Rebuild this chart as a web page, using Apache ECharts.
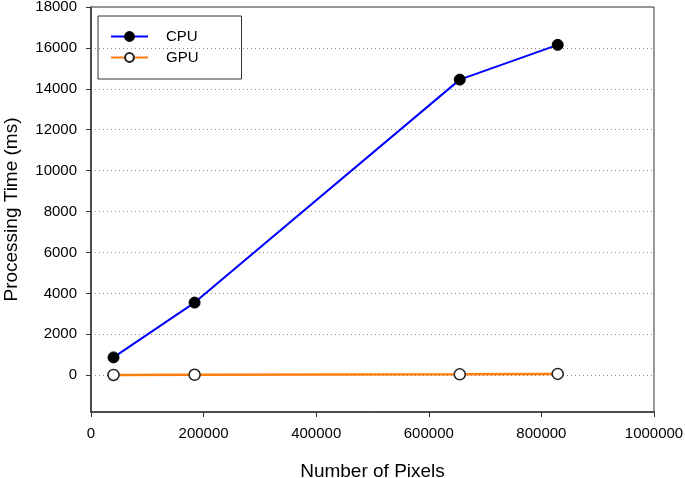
<!DOCTYPE html>
<html>
<head>
<meta charset="utf-8">
<script src="https://cdn.jsdelivr.net/npm/echarts@6/dist/echarts.min.js"></script>
<style>
html,body{margin:0;padding:0;background:#fff;}
#chart{width:685px;height:478px;}
</style>
</head>
<body>
<div id="chart"></div>
<script>
const pixels = [40000, 184000, 655000, 829000];
const cpuTime = [870, 3550, 14450, 16150];
const gpuTime = [10, 20, 40, 60];
const yTicks = [0, 2000, 4000, 6000, 8000, 10000, 12000, 14000, 16000, 18000];

const FONT = 'Liberation Sans, Arial, sans-serif';
const chart = echarts.init(document.getElementById('chart'), null, {renderer: 'canvas'});
chart.setOption({
  animation: false,
  backgroundColor: '#fff',
  textStyle: {fontFamily: FONT},
  grid: {left: 91, right: 31, top: 7, bottom: 66, outerBoundsMode: 'none', containLabel: false,
         show: true, borderColor: '#333', borderWidth: 1, backgroundColor: 'transparent'},
  legend: {
    orient: 'vertical', left: 98, top: 16,
    padding: [13, 43, 14, 12],
    itemWidth: 37, itemHeight: 11, itemGap: 6,
    borderColor: '#333', borderWidth: 1,
    textStyle: {fontFamily: FONT, fontSize: 15, color: '#000', padding: [0, 0, 0, 13]},
    data: ['CPU', 'GPU']
  },
  xAxis: {
    type: 'value', min: 0, max: 1000000, interval: 200000,
    name: 'Number of Pixels', nameLocation: 'middle', nameGap: 50,
    nameTextStyle: {fontFamily: FONT, fontSize: 19, color: '#000'},
    axisLine: {onZero: false, lineStyle: {color: '#333', width: 1.5}},
    axisTick: {show: true, inside: false, length: 5, lineStyle: {color: '#333'}},
    axisLabel: {fontFamily: FONT, fontSize: 15, color: '#000', margin: 14, formatter: v => String(v)},
    splitLine: {show: false}
  },
  yAxis: {
    type: 'value', min: -1800, max: 18000,
    name: 'Processing Time (ms)', nameLocation: 'middle', nameGap: 70,
    nameTextStyle: {fontFamily: FONT, fontSize: 19, color: '#000'},
    axisLine: {show: true, onZero: false, lineStyle: {color: '#333', width: 1.5}},
    axisTick: {show: true, inside: false, length: 5, lineStyle: {color: '#333'}, customValues: yTicks},
    axisLabel: {fontFamily: FONT, fontSize: 15, color: '#000', margin: 14, customValues: yTicks, formatter: v => String(v)},
    splitLine: {show: true, lineStyle: {color: '#888', type: [1, 3], width: 1}}
  },
  series: [
    {
      name: 'CPU', type: 'line',
      data: pixels.map((x, i) => [x, cpuTime[i]]),
      symbol: 'circle', symbolSize: 11,
      lineStyle: {color: '#0000ff', width: 2},
      itemStyle: {color: '#000', borderColor: '#000', borderWidth: 1},
      color: '#0000ff'
    },
    {
      name: 'GPU', type: 'line',
      data: pixels.map((x, i) => [x, gpuTime[i]]),
      symbol: 'circle', symbolSize: 11,
      lineStyle: {color: '#ff7f0e', width: 2.5},
      itemStyle: {color: '#fff', borderColor: '#222', borderWidth: 1.5},
      color: '#ff7f0e'
    }
  ]
});
</script>
</body>
</html>
